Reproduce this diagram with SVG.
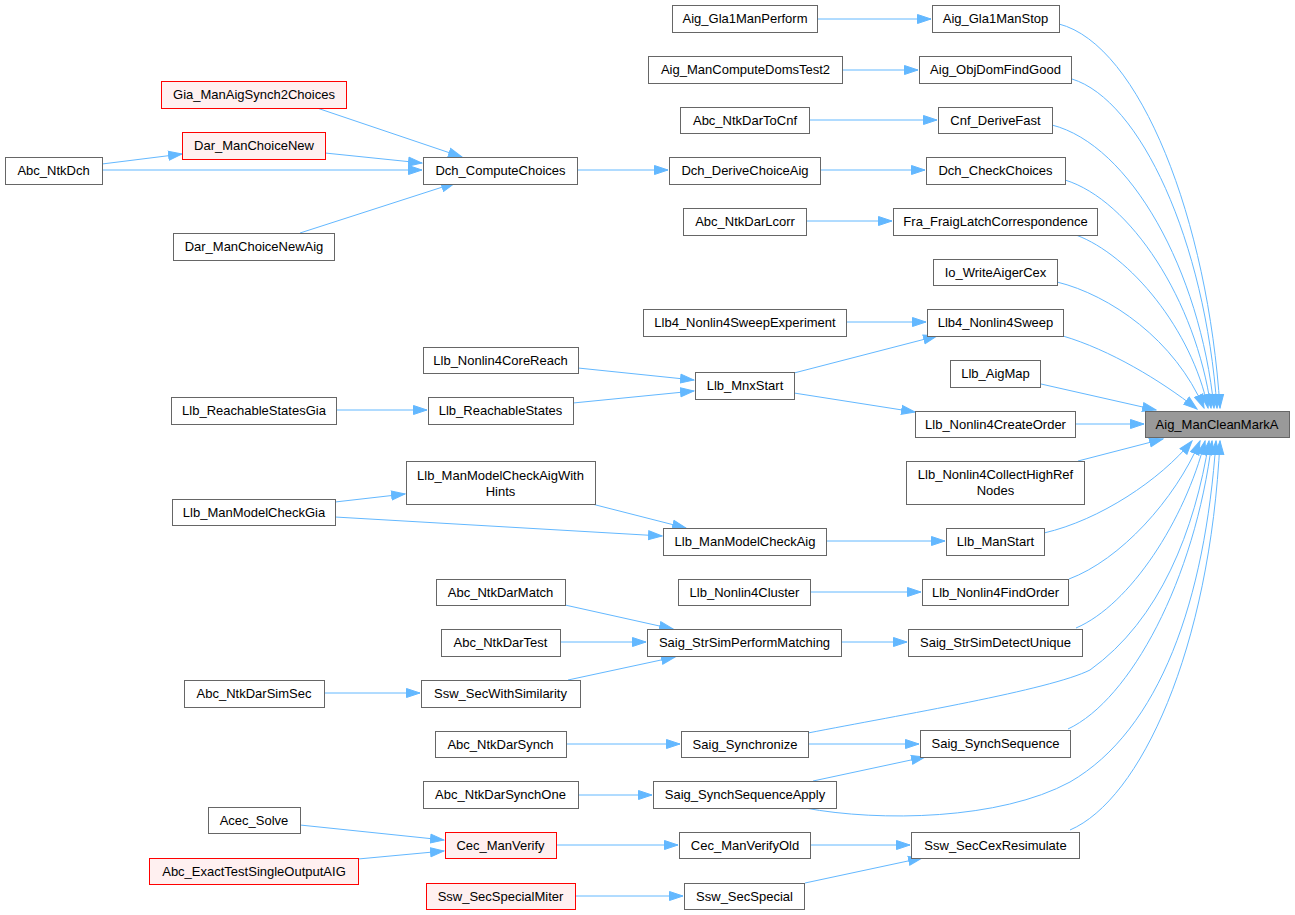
<svg xmlns="http://www.w3.org/2000/svg" width="1295" height="915" viewBox="0 0 1295 915">
<style>
.n rect{fill:#fff;stroke:#666;stroke-width:1}
.r rect{fill:#fff0f0;stroke:#f00;stroke-width:1}
.t rect{fill:#999;stroke:#666;stroke-width:1}
text{font-family:"Liberation Sans",Arial,sans-serif;font-size:13px;text-anchor:middle;fill:#000}
#edges path{fill:none;stroke:#63b8ff;stroke-width:1;marker-end:url(#a)}
</style>
<defs>
<marker id="a" markerUnits="userSpaceOnUse" markerWidth="15" markerHeight="11" refX="14" refY="5.5" orient="auto"><path d="M0.5,1 L14,5.5 L0.5,10 z" fill="#63b8ff" stroke="#63b8ff" stroke-width="1"/></marker>
</defs>
<rect width="1295" height="915" fill="#fff"/>
<g id="edges">
<path d="M1059,24 C1140,45 1208,220 1220,408"/>
<path d="M1072,79 C1140,100 1205,240 1217,408"/>
<path d="M1052,125 C1130,145 1200,270 1214,408"/>
<path d="M1065,180 C1130,200 1196,300 1211,408"/>
<path d="M1076,235 C1130,255 1192,330 1208,408"/>
<path d="M1057,282 C1110,295 1175,340 1204,408"/>
<path d="M1063,336 C1110,350 1160,380 1197,409"/>
<path d="M1041,384 L1156,410"/>
<path d="M1075,424 L1144,424"/>
<path d="M1078,461 L1163,439"/>
<path d="M1044,533 C1100,520 1160,480 1192,441"/>
<path d="M1069,579 C1120,560 1175,500 1200,441"/>
<path d="M1076,628 C1130,605 1185,520 1205,441"/>
<path d="M808,733 C900,715 1050,690 1090,670 C1160,620 1195,530 1209,441"/>
<path d="M1068,729 C1130,700 1195,580 1212,441"/>
<path d="M805,808 C880,822 1000,820 1070,782 C1160,730 1205,600 1216,441"/>
<path d="M1070,830 C1140,800 1210,650 1220,441"/>
<path d="M817,19 L931,19"/>
<path d="M842,70 L918,70"/>
<path d="M809,120 L937,120"/>
<path d="M820,170 L925,170"/>
<path d="M806,221 L892,221"/>
<path d="M846,322 L926,322"/>
<path d="M794,373 L937,336"/>
<path d="M794,393 L915,412"/>
<path d="M826,541 L945,541"/>
<path d="M810,592 L921,592"/>
<path d="M841,642 L907,642"/>
<path d="M808,744 L919,744"/>
<path d="M813,781 L925,757"/>
<path d="M810,845 L910,845"/>
<path d="M805,883 L922,858"/>
<path d="M577,170 L668,170"/>
<path d="M578,368 L694,380"/>
<path d="M573,403 L694,391"/>
<path d="M592,504 L686,528"/>
<path d="M335,517 L662,536"/>
<path d="M335,502 L405,494"/>
<path d="M336,410 L427,410"/>
<path d="M565,605 L673,629"/>
<path d="M560,642 L646,642"/>
<path d="M568,680 L675,657"/>
<path d="M566,744 L680,744"/>
<path d="M578,795 L652,795"/>
<path d="M556,845 L678,845"/>
<path d="M575,896 L683,896"/>
<path d="M317,108 L462,157"/>
<path d="M325,153 L422,163"/>
<path d="M102,170 L422,170"/>
<path d="M102,164 L182,154"/>
<path d="M300,233 L455,183"/>
<path d="M324,693 L420,693"/>
<path d="M300,825 L444,840"/>
<path d="M358,859 L444,851"/>
</g>
<g id="n_target" class="t"><rect x="1145.5" y="411.5" width="144" height="26"/><text x="1217" y="428.5">Aig_ManCleanMarkA</text></g>
<g id="n_gla1stop" class="n"><rect x="932.5" y="5.5" width="127" height="27"/><text x="995.5" y="23">Aig_Gla1ManStop</text></g>
<g id="n_objdom" class="n"><rect x="919.5" y="56.5" width="152" height="27"/><text x="995.5" y="74">Aig_ObjDomFindGood</text></g>
<g id="n_cnfderive" class="n"><rect x="938.5" y="107.5" width="114" height="26"/><text x="995.5" y="124.5">Cnf_DeriveFast</text></g>
<g id="n_dchcheck" class="n"><rect x="926.5" y="157.5" width="139" height="27"/><text x="995.5" y="175">Dch_CheckChoices</text></g>
<g id="n_fralatch" class="n"><rect x="893.5" y="208.5" width="204" height="27"/><text x="995.5" y="226">Fra_FraigLatchCorrespondence</text></g>
<g id="n_iowrite" class="n"><rect x="933.5" y="259.5" width="124" height="26"/><text x="995.5" y="276.5">Io_WriteAigerCex</text></g>
<g id="n_llb4sweep" class="n"><rect x="927.5" y="309.5" width="136" height="27"/><text x="995.5" y="327">Llb4_Nonlin4Sweep</text></g>
<g id="n_aigmap" class="n"><rect x="950.5" y="360.5" width="90" height="27"/><text x="995.5" y="378">Llb_AigMap</text></g>
<g id="n_createorder" class="n"><rect x="915.5" y="411.5" width="160" height="26"/><text x="995.5" y="428.5">Llb_Nonlin4CreateOrder</text></g>
<g id="n_collecthigh" class="n"><rect x="906.5" y="461.5" width="178" height="43"/><text x="995.5" y="478.5">Llb_Nonlin4CollectHighRef</text><text x="995.5" y="494.5">Nodes</text></g>
<g id="n_manstart" class="n"><rect x="946.5" y="528.5" width="98" height="27"/><text x="995.5" y="546">Llb_ManStart</text></g>
<g id="n_findorder" class="n"><rect x="922.5" y="579.5" width="146" height="26"/><text x="995.5" y="596.5">Llb_Nonlin4FindOrder</text></g>
<g id="n_detectunique" class="n"><rect x="908.5" y="629.5" width="174" height="27"/><text x="995.5" y="647">Saig_StrSimDetectUnique</text></g>
<g id="n_synchseq" class="n"><rect x="920.5" y="730.5" width="150" height="27"/><text x="995.5" y="748">Saig_SynchSequence</text></g>
<g id="n_cexresim" class="n"><rect x="911.5" y="832.5" width="168" height="26"/><text x="995.5" y="849.5">Ssw_SecCexResimulate</text></g>
<g id="n_gla1perform" class="n"><rect x="672.5" y="5.5" width="145" height="27"/><text x="745" y="23">Aig_Gla1ManPerform</text></g>
<g id="n_domstest2" class="n"><rect x="648.5" y="56.5" width="194" height="27"/><text x="745.5" y="74">Aig_ManComputeDomsTest2</text></g>
<g id="n_dartocnf" class="n"><rect x="680.5" y="107.5" width="129" height="26"/><text x="745" y="124.5">Abc_NtkDarToCnf</text></g>
<g id="n_derivechoice" class="n"><rect x="669.5" y="157.5" width="151" height="27"/><text x="745" y="175">Dch_DeriveChoiceAig</text></g>
<g id="n_darlcorr" class="n"><rect x="683.5" y="208.5" width="123" height="27"/><text x="745" y="226">Abc_NtkDarLcorr</text></g>
<g id="n_sweepexp" class="n"><rect x="643.5" y="309.5" width="203" height="27"/><text x="745" y="327">Llb4_Nonlin4SweepExperiment</text></g>
<g id="n_mnxstart" class="n"><rect x="695.5" y="372.5" width="99" height="27"/><text x="745" y="390">Llb_MnxStart</text></g>
<g id="n_mcaig" class="n"><rect x="663.5" y="528.5" width="163" height="27"/><text x="745" y="546">Llb_ManModelCheckAig</text></g>
<g id="n_cluster" class="n"><rect x="678.5" y="579.5" width="132" height="26"/><text x="744.5" y="596.5">Llb_Nonlin4Cluster</text></g>
<g id="n_perfmatch" class="n"><rect x="647.5" y="629.5" width="194" height="27"/><text x="744.5" y="647">Saig_StrSimPerformMatching</text></g>
<g id="n_synchronize" class="n"><rect x="681.5" y="731.5" width="127" height="26"/><text x="745" y="748.5">Saig_Synchronize</text></g>
<g id="n_seqapply" class="n"><rect x="653.5" y="781.5" width="183" height="27"/><text x="745" y="799">Saig_SynchSequenceApply</text></g>
<g id="n_verifyold" class="n"><rect x="679.5" y="832.5" width="131" height="26"/><text x="745" y="849.5">Cec_ManVerifyOld</text></g>
<g id="n_secspecial" class="n"><rect x="684.5" y="883.5" width="120" height="26"/><text x="744.5" y="900.5">Ssw_SecSpecial</text></g>
<g id="n_gia2choices" class="r"><rect x="161.5" y="81.5" width="185" height="27"/><text x="254" y="99">Gia_ManAigSynch2Choices</text></g>
<g id="n_choicenew" class="r"><rect x="182.5" y="132.5" width="143" height="27"/><text x="254" y="150">Dar_ManChoiceNew</text></g>
<g id="n_computechoices" class="n"><rect x="423.5" y="157.5" width="154" height="27"/><text x="500.5" y="175">Dch_ComputeChoices</text></g>
<g id="n_choicenewaig" class="n"><rect x="173.5" y="233.5" width="161" height="27"/><text x="254" y="251">Dar_ManChoiceNewAig</text></g>
<g id="n_corereach" class="n"><rect x="423.5" y="347.5" width="155" height="26"/><text x="500.5" y="364.5">Llb_Nonlin4CoreReach</text></g>
<g id="n_reachable" class="n"><rect x="428.5" y="397.5" width="145" height="27"/><text x="500.5" y="415">Llb_ReachableStates</text></g>
<g id="n_mchints" class="n"><rect x="406.5" y="461.5" width="189" height="43"/><text x="500.5" y="479.5">Llb_ManModelCheckAigWith</text><text x="500.5" y="495.5">Hints</text></g>
<g id="n_darmatch" class="n"><rect x="436.5" y="579.5" width="129" height="26"/><text x="500.5" y="596.5">Abc_NtkDarMatch</text></g>
<g id="n_dartest" class="n"><rect x="441.5" y="629.5" width="119" height="27"/><text x="500.5" y="647">Abc_NtkDarTest</text></g>
<g id="n_secwithsim" class="n"><rect x="421.5" y="680.5" width="159" height="27"/><text x="500.5" y="698">Ssw_SecWithSimilarity</text></g>
<g id="n_darsynch" class="n"><rect x="435.5" y="731.5" width="131" height="26"/><text x="500.5" y="748.5">Abc_NtkDarSynch</text></g>
<g id="n_darsynchone" class="n"><rect x="423.5" y="781.5" width="155" height="27"/><text x="500.5" y="799">Abc_NtkDarSynchOne</text></g>
<g id="n_cecverify" class="r"><rect x="445.5" y="832.5" width="111" height="26"/><text x="500.5" y="849.5">Cec_ManVerify</text></g>
<g id="n_specialmiter" class="r"><rect x="426.5" y="883.5" width="149" height="26"/><text x="500.5" y="900.5">Ssw_SecSpecialMiter</text></g>
<g id="n_ntkdch" class="n"><rect x="5.5" y="157.5" width="97" height="27"/><text x="53.5" y="175">Abc_NtkDch</text></g>
<g id="n_reachgia" class="n"><rect x="171.5" y="397.5" width="165" height="27"/><text x="254" y="415">Llb_ReachableStatesGia</text></g>
<g id="n_mcgia" class="n"><rect x="172.5" y="499.5" width="163" height="26"/><text x="254" y="516.5">Llb_ManModelCheckGia</text></g>
<g id="n_simsec" class="n"><rect x="184.5" y="680.5" width="140" height="27"/><text x="254" y="698">Abc_NtkDarSimSec</text></g>
<g id="n_acecsolve" class="n"><rect x="208.5" y="807.5" width="92" height="26"/><text x="254" y="824.5">Acec_Solve</text></g>
<g id="n_exacttest" class="r"><rect x="149.5" y="858.5" width="209" height="26"/><text x="254" y="875.5">Abc_ExactTestSingleOutputAIG</text></g>
</svg>
